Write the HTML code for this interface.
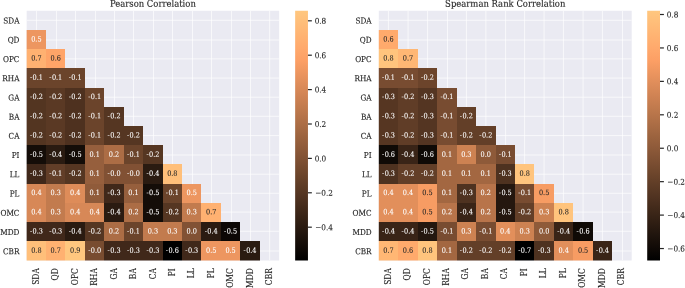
<!DOCTYPE html>
<html><head><meta charset="utf-8"><title>Correlation heatmaps</title>
<style>html,body{margin:0;padding:0;background:#fff}svg{display:block;filter:blur(0.4px)}</style></head>
<body>
<svg width="685" height="288" viewBox="0 0 685 288" font-family="'DejaVu Serif Condensed', 'DejaVu Serif', 'Liberation Serif', serif">
<defs>
<linearGradient id="cb0" gradientUnits="userSpaceOnUse" x1="0" y1="260.45" x2="0" y2="10.7">
<stop offset="0.00" stop-color="#000000"/>
<stop offset="0.05" stop-color="#100a06"/>
<stop offset="0.10" stop-color="#1f140d"/>
<stop offset="0.15" stop-color="#2f1e13"/>
<stop offset="0.20" stop-color="#3f2819"/>
<stop offset="0.25" stop-color="#4f3220"/>
<stop offset="0.30" stop-color="#5e3c26"/>
<stop offset="0.35" stop-color="#6e462c"/>
<stop offset="0.40" stop-color="#7e5033"/>
<stop offset="0.45" stop-color="#8e5a39"/>
<stop offset="0.50" stop-color="#9d643f"/>
<stop offset="0.55" stop-color="#ad6e46"/>
<stop offset="0.60" stop-color="#bd784c"/>
<stop offset="0.65" stop-color="#cd8152"/>
<stop offset="0.70" stop-color="#dc8b59"/>
<stop offset="0.75" stop-color="#ec955f"/>
<stop offset="0.80" stop-color="#fc9f65"/>
<stop offset="0.85" stop-color="#ffa96c"/>
<stop offset="0.90" stop-color="#ffb372"/>
<stop offset="0.95" stop-color="#ffbd79"/>
<stop offset="1.00" stop-color="#ffc77f"/>
</linearGradient>
<linearGradient id="cb1" gradientUnits="userSpaceOnUse" x1="0" y1="260.45" x2="0" y2="10.7">
<stop offset="0.00" stop-color="#000000"/>
<stop offset="0.05" stop-color="#100a06"/>
<stop offset="0.10" stop-color="#1f140d"/>
<stop offset="0.15" stop-color="#2f1e13"/>
<stop offset="0.20" stop-color="#3f2819"/>
<stop offset="0.25" stop-color="#4f3220"/>
<stop offset="0.30" stop-color="#5e3c26"/>
<stop offset="0.35" stop-color="#6e462c"/>
<stop offset="0.40" stop-color="#7e5033"/>
<stop offset="0.45" stop-color="#8e5a39"/>
<stop offset="0.50" stop-color="#9d643f"/>
<stop offset="0.55" stop-color="#ad6e46"/>
<stop offset="0.60" stop-color="#bd784c"/>
<stop offset="0.65" stop-color="#cd8152"/>
<stop offset="0.70" stop-color="#dc8b59"/>
<stop offset="0.75" stop-color="#ec955f"/>
<stop offset="0.80" stop-color="#fc9f65"/>
<stop offset="0.85" stop-color="#ffa96c"/>
<stop offset="0.90" stop-color="#ffb372"/>
<stop offset="0.95" stop-color="#ffbd79"/>
<stop offset="1.00" stop-color="#ffc77f"/>
</linearGradient>
<clipPath id="hc0"><rect x="26.65" y="10.7" width="252.50" height="249.75"/></clipPath>
<clipPath id="bc0"><rect x="295.15" y="10.7" width="12.80" height="249.75"/></clipPath>
<clipPath id="hc1"><rect x="378.8" y="10.7" width="252.90" height="249.75"/></clipPath>
<clipPath id="bc1"><rect x="647.2" y="10.7" width="12.80" height="249.75"/></clipPath>
</defs>
<rect width="685" height="288" fill="#fff"/>
<g shape-rendering="crispEdges">
<g clip-path="url(#hc0)">
<rect x="24.65" y="8.70" width="256.50" height="253.75" fill="#eaeaf2"/>
<path d="M36.45 10.7V260.45M26.65 20.30H279.15M56.45 10.7V260.45M26.65 40.00H279.15M75.50 10.7V260.45M26.65 58.90H279.15M95.45 10.7V260.45M26.65 78.10H279.15M114.50 10.7V260.45M26.65 97.20H279.15M133.50 10.7V260.45M26.65 116.30H279.15M153.50 10.7V260.45M26.65 135.60H279.15M172.50 10.7V260.45M26.65 155.00H279.15M192.50 10.7V260.45M26.65 174.20H279.15M211.55 10.7V260.45M26.65 193.30H279.15M231.45 10.7V260.45M26.65 212.10H279.15M250.55 10.7V260.45M26.65 231.30H279.15M269.70 10.7V260.45M26.65 251.00H279.15" stroke="#fff" stroke-width="1" stroke-opacity="0.68" fill="none" shape-rendering="geometricPrecision"/>
<rect x="25" y="30" width="21" height="19" fill="#ed9660"/>
<rect x="25" y="49" width="21" height="19" fill="#ffb171"/>
<rect x="46" y="49" width="19" height="19" fill="#ffa468"/>
<rect x="25" y="68" width="21" height="20" fill="#6b442b"/>
<rect x="46" y="68" width="19" height="20" fill="#6b442b"/>
<rect x="65" y="68" width="20" height="20" fill="#6b442b"/>
<rect x="25" y="88" width="21" height="19" fill="#533521"/>
<rect x="46" y="88" width="19" height="19" fill="#5a3924"/>
<rect x="65" y="88" width="20" height="19" fill="#4e311f"/>
<rect x="85" y="88" width="19" height="19" fill="#6b442b"/>
<rect x="25" y="107" width="21" height="19" fill="#533521"/>
<rect x="46" y="107" width="19" height="19" fill="#5a3924"/>
<rect x="65" y="107" width="20" height="19" fill="#4e311f"/>
<rect x="85" y="107" width="19" height="19" fill="#6b442b"/>
<rect x="104" y="107" width="20" height="19" fill="#553622"/>
<rect x="25" y="126" width="21" height="19" fill="#533521"/>
<rect x="46" y="126" width="19" height="19" fill="#5a3924"/>
<rect x="65" y="126" width="20" height="19" fill="#4e311f"/>
<rect x="85" y="126" width="19" height="19" fill="#6b442b"/>
<rect x="104" y="126" width="20" height="19" fill="#553622"/>
<rect x="124" y="126" width="19" height="19" fill="#553622"/>
<rect x="25" y="145" width="21" height="19" fill="#140d08"/>
<rect x="46" y="145" width="19" height="19" fill="#2a1b11"/>
<rect x="65" y="145" width="20" height="19" fill="#140d08"/>
<rect x="85" y="145" width="19" height="19" fill="#965f3d"/>
<rect x="104" y="145" width="20" height="19" fill="#ac6d45"/>
<rect x="124" y="145" width="19" height="19" fill="#6b442b"/>
<rect x="143" y="145" width="20" height="19" fill="#553622"/>
<rect x="25" y="164" width="21" height="20" fill="#40281a"/>
<rect x="46" y="164" width="19" height="20" fill="#623e28"/>
<rect x="65" y="164" width="20" height="20" fill="#553622"/>
<rect x="85" y="164" width="19" height="20" fill="#965f3d"/>
<rect x="104" y="164" width="20" height="20" fill="#815134"/>
<rect x="124" y="164" width="19" height="20" fill="#815134"/>
<rect x="143" y="164" width="20" height="20" fill="#2a1b11"/>
<rect x="163" y="164" width="19" height="20" fill="#ffbf7a"/>
<rect x="25" y="184" width="21" height="19" fill="#d78857"/>
<rect x="46" y="184" width="19" height="19" fill="#c27b4e"/>
<rect x="65" y="184" width="20" height="19" fill="#de8c59"/>
<rect x="85" y="184" width="19" height="19" fill="#905b3a"/>
<rect x="104" y="184" width="20" height="19" fill="#40281a"/>
<rect x="124" y="184" width="19" height="19" fill="#965f3d"/>
<rect x="143" y="184" width="20" height="19" fill="#140d08"/>
<rect x="163" y="184" width="19" height="19" fill="#6b442b"/>
<rect x="182" y="184" width="19" height="19" fill="#ed9660"/>
<rect x="25" y="203" width="21" height="19" fill="#d78857"/>
<rect x="46" y="203" width="19" height="19" fill="#c27b4e"/>
<rect x="65" y="203" width="20" height="19" fill="#d78857"/>
<rect x="85" y="203" width="19" height="19" fill="#d78857"/>
<rect x="104" y="203" width="20" height="19" fill="#2a1b11"/>
<rect x="124" y="203" width="19" height="19" fill="#ac6d45"/>
<rect x="143" y="203" width="20" height="19" fill="#140d08"/>
<rect x="163" y="203" width="19" height="19" fill="#553622"/>
<rect x="182" y="203" width="19" height="19" fill="#c27b4e"/>
<rect x="201" y="203" width="20" height="19" fill="#ffb171"/>
<rect x="25" y="222" width="21" height="19" fill="#40281a"/>
<rect x="46" y="222" width="19" height="19" fill="#40281a"/>
<rect x="65" y="222" width="20" height="19" fill="#2a1b11"/>
<rect x="85" y="222" width="19" height="19" fill="#553622"/>
<rect x="104" y="222" width="20" height="19" fill="#ac6d45"/>
<rect x="124" y="222" width="19" height="19" fill="#6b442b"/>
<rect x="143" y="222" width="20" height="19" fill="#c27b4e"/>
<rect x="163" y="222" width="19" height="19" fill="#c27b4e"/>
<rect x="182" y="222" width="19" height="19" fill="#815134"/>
<rect x="201" y="222" width="20" height="19" fill="#2a1b11"/>
<rect x="221" y="222" width="19" height="19" fill="#0c0705"/>
<rect x="25" y="241" width="21" height="21" fill="#ffbf7a"/>
<rect x="46" y="241" width="19" height="21" fill="#ffb171"/>
<rect x="65" y="241" width="20" height="21" fill="#ffc77f"/>
<rect x="85" y="241" width="19" height="21" fill="#784c30"/>
<rect x="104" y="241" width="20" height="21" fill="#40281a"/>
<rect x="124" y="241" width="19" height="21" fill="#40281a"/>
<rect x="143" y="241" width="20" height="21" fill="#40281a"/>
<rect x="163" y="241" width="19" height="21" fill="#000000"/>
<rect x="182" y="241" width="19" height="21" fill="#40281a"/>
<rect x="201" y="241" width="20" height="21" fill="#ed9660"/>
<rect x="221" y="241" width="19" height="21" fill="#ed9660"/>
<rect x="240" y="241" width="20" height="21" fill="#2a1b11"/>
</g>
<g font-size="72.5" text-anchor="middle" stroke-width="0.72">
<text transform="translate(36.36 41.38) rotate(.03) scale(.1)" fill="#ffffff" stroke="#ffffff">0.5</text>
<text transform="translate(36.36 60.59) rotate(.03) scale(.1)" fill="#262626" stroke="#262626">0.7</text>
<text transform="translate(55.78 60.59) rotate(.03) scale(.1)" fill="#262626" stroke="#262626">0.6</text>
<text transform="translate(36.36 79.81) rotate(.03) scale(.1)" fill="#ffffff" stroke="#ffffff">-<tspan dx="4">0.1</tspan></text>
<text transform="translate(55.78 79.81) rotate(.03) scale(.1)" fill="#ffffff" stroke="#ffffff">-<tspan dx="4">0.1</tspan></text>
<text transform="translate(75.21 79.81) rotate(.03) scale(.1)" fill="#ffffff" stroke="#ffffff">-<tspan dx="4">0.1</tspan></text>
<text transform="translate(36.36 99.02) rotate(.03) scale(.1)" fill="#ffffff" stroke="#ffffff">-<tspan dx="4">0.2</tspan></text>
<text transform="translate(55.78 99.02) rotate(.03) scale(.1)" fill="#ffffff" stroke="#ffffff">-<tspan dx="4">0.2</tspan></text>
<text transform="translate(75.21 99.02) rotate(.03) scale(.1)" fill="#ffffff" stroke="#ffffff">-<tspan dx="4">0.2</tspan></text>
<text transform="translate(94.63 99.02) rotate(.03) scale(.1)" fill="#ffffff" stroke="#ffffff">-<tspan dx="4">0.1</tspan></text>
<text transform="translate(36.36 118.23) rotate(.03) scale(.1)" fill="#ffffff" stroke="#ffffff">-<tspan dx="4">0.2</tspan></text>
<text transform="translate(55.78 118.23) rotate(.03) scale(.1)" fill="#ffffff" stroke="#ffffff">-<tspan dx="4">0.2</tspan></text>
<text transform="translate(75.21 118.23) rotate(.03) scale(.1)" fill="#ffffff" stroke="#ffffff">-<tspan dx="4">0.2</tspan></text>
<text transform="translate(94.63 118.23) rotate(.03) scale(.1)" fill="#ffffff" stroke="#ffffff">-<tspan dx="4">0.1</tspan></text>
<text transform="translate(114.05 118.23) rotate(.03) scale(.1)" fill="#ffffff" stroke="#ffffff">-<tspan dx="4">0.2</tspan></text>
<text transform="translate(36.36 137.44) rotate(.03) scale(.1)" fill="#ffffff" stroke="#ffffff">-<tspan dx="4">0.2</tspan></text>
<text transform="translate(55.78 137.44) rotate(.03) scale(.1)" fill="#ffffff" stroke="#ffffff">-<tspan dx="4">0.2</tspan></text>
<text transform="translate(75.21 137.44) rotate(.03) scale(.1)" fill="#ffffff" stroke="#ffffff">-<tspan dx="4">0.2</tspan></text>
<text transform="translate(94.63 137.44) rotate(.03) scale(.1)" fill="#ffffff" stroke="#ffffff">-<tspan dx="4">0.1</tspan></text>
<text transform="translate(114.05 137.44) rotate(.03) scale(.1)" fill="#ffffff" stroke="#ffffff">-<tspan dx="4">0.2</tspan></text>
<text transform="translate(133.48 137.44) rotate(.03) scale(.1)" fill="#ffffff" stroke="#ffffff">-<tspan dx="4">0.2</tspan></text>
<text transform="translate(36.36 156.65) rotate(.03) scale(.1)" fill="#ffffff" stroke="#ffffff">-<tspan dx="4">0.5</tspan></text>
<text transform="translate(55.78 156.65) rotate(.03) scale(.1)" fill="#ffffff" stroke="#ffffff">-<tspan dx="4">0.4</tspan></text>
<text transform="translate(75.21 156.65) rotate(.03) scale(.1)" fill="#ffffff" stroke="#ffffff">-<tspan dx="4">0.5</tspan></text>
<text transform="translate(94.63 156.65) rotate(.03) scale(.1)" fill="#ffffff" stroke="#ffffff">0.1</text>
<text transform="translate(114.05 156.65) rotate(.03) scale(.1)" fill="#ffffff" stroke="#ffffff">0.2</text>
<text transform="translate(133.48 156.65) rotate(.03) scale(.1)" fill="#ffffff" stroke="#ffffff">-<tspan dx="4">0.1</tspan></text>
<text transform="translate(152.90 156.65) rotate(.03) scale(.1)" fill="#ffffff" stroke="#ffffff">-<tspan dx="4">0.2</tspan></text>
<text transform="translate(36.36 175.86) rotate(.03) scale(.1)" fill="#ffffff" stroke="#ffffff">-<tspan dx="4">0.3</tspan></text>
<text transform="translate(55.78 175.86) rotate(.03) scale(.1)" fill="#ffffff" stroke="#ffffff">-<tspan dx="4">0.1</tspan></text>
<text transform="translate(75.21 175.86) rotate(.03) scale(.1)" fill="#ffffff" stroke="#ffffff">-<tspan dx="4">0.2</tspan></text>
<text transform="translate(94.63 175.86) rotate(.03) scale(.1)" fill="#ffffff" stroke="#ffffff">0.1</text>
<text transform="translate(114.05 175.86) rotate(.03) scale(.1)" fill="#ffffff" stroke="#ffffff">-<tspan dx="4">0.0</tspan></text>
<text transform="translate(133.48 175.86) rotate(.03) scale(.1)" fill="#ffffff" stroke="#ffffff">-<tspan dx="4">0.0</tspan></text>
<text transform="translate(152.90 175.86) rotate(.03) scale(.1)" fill="#ffffff" stroke="#ffffff">-<tspan dx="4">0.4</tspan></text>
<text transform="translate(172.32 175.86) rotate(.03) scale(.1)" fill="#262626" stroke="#262626">0.8</text>
<text transform="translate(36.36 195.07) rotate(.03) scale(.1)" fill="#ffffff" stroke="#ffffff">0.4</text>
<text transform="translate(55.78 195.07) rotate(.03) scale(.1)" fill="#ffffff" stroke="#ffffff">0.3</text>
<text transform="translate(75.21 195.07) rotate(.03) scale(.1)" fill="#ffffff" stroke="#ffffff">0.4</text>
<text transform="translate(94.63 195.07) rotate(.03) scale(.1)" fill="#ffffff" stroke="#ffffff">0.1</text>
<text transform="translate(114.05 195.07) rotate(.03) scale(.1)" fill="#ffffff" stroke="#ffffff">-<tspan dx="4">0.3</tspan></text>
<text transform="translate(133.48 195.07) rotate(.03) scale(.1)" fill="#ffffff" stroke="#ffffff">0.1</text>
<text transform="translate(152.90 195.07) rotate(.03) scale(.1)" fill="#ffffff" stroke="#ffffff">-<tspan dx="4">0.5</tspan></text>
<text transform="translate(172.32 195.07) rotate(.03) scale(.1)" fill="#ffffff" stroke="#ffffff">-<tspan dx="4">0.1</tspan></text>
<text transform="translate(191.75 195.07) rotate(.03) scale(.1)" fill="#ffffff" stroke="#ffffff">0.5</text>
<text transform="translate(36.36 214.29) rotate(.03) scale(.1)" fill="#ffffff" stroke="#ffffff">0.4</text>
<text transform="translate(55.78 214.29) rotate(.03) scale(.1)" fill="#ffffff" stroke="#ffffff">0.3</text>
<text transform="translate(75.21 214.29) rotate(.03) scale(.1)" fill="#ffffff" stroke="#ffffff">0.4</text>
<text transform="translate(94.63 214.29) rotate(.03) scale(.1)" fill="#ffffff" stroke="#ffffff">0.4</text>
<text transform="translate(114.05 214.29) rotate(.03) scale(.1)" fill="#ffffff" stroke="#ffffff">-<tspan dx="4">0.4</tspan></text>
<text transform="translate(133.48 214.29) rotate(.03) scale(.1)" fill="#ffffff" stroke="#ffffff">0.2</text>
<text transform="translate(152.90 214.29) rotate(.03) scale(.1)" fill="#ffffff" stroke="#ffffff">-<tspan dx="4">0.5</tspan></text>
<text transform="translate(172.32 214.29) rotate(.03) scale(.1)" fill="#ffffff" stroke="#ffffff">-<tspan dx="4">0.2</tspan></text>
<text transform="translate(191.75 214.29) rotate(.03) scale(.1)" fill="#ffffff" stroke="#ffffff">0.3</text>
<text transform="translate(211.17 214.29) rotate(.03) scale(.1)" fill="#262626" stroke="#262626">0.7</text>
<text transform="translate(36.36 233.50) rotate(.03) scale(.1)" fill="#ffffff" stroke="#ffffff">-<tspan dx="4">0.3</tspan></text>
<text transform="translate(55.78 233.50) rotate(.03) scale(.1)" fill="#ffffff" stroke="#ffffff">-<tspan dx="4">0.3</tspan></text>
<text transform="translate(75.21 233.50) rotate(.03) scale(.1)" fill="#ffffff" stroke="#ffffff">-<tspan dx="4">0.4</tspan></text>
<text transform="translate(94.63 233.50) rotate(.03) scale(.1)" fill="#ffffff" stroke="#ffffff">-<tspan dx="4">0.2</tspan></text>
<text transform="translate(114.05 233.50) rotate(.03) scale(.1)" fill="#ffffff" stroke="#ffffff">0.2</text>
<text transform="translate(133.48 233.50) rotate(.03) scale(.1)" fill="#ffffff" stroke="#ffffff">-<tspan dx="4">0.1</tspan></text>
<text transform="translate(152.90 233.50) rotate(.03) scale(.1)" fill="#ffffff" stroke="#ffffff">0.3</text>
<text transform="translate(172.32 233.50) rotate(.03) scale(.1)" fill="#ffffff" stroke="#ffffff">0.3</text>
<text transform="translate(191.75 233.50) rotate(.03) scale(.1)" fill="#ffffff" stroke="#ffffff">0.0</text>
<text transform="translate(211.17 233.50) rotate(.03) scale(.1)" fill="#ffffff" stroke="#ffffff">-<tspan dx="4">0.4</tspan></text>
<text transform="translate(230.59 233.50) rotate(.03) scale(.1)" fill="#ffffff" stroke="#ffffff">-<tspan dx="4">0.5</tspan></text>
<text transform="translate(36.36 252.71) rotate(.03) scale(.1)" fill="#262626" stroke="#262626">0.8</text>
<text transform="translate(55.78 252.71) rotate(.03) scale(.1)" fill="#262626" stroke="#262626">0.7</text>
<text transform="translate(75.21 252.71) rotate(.03) scale(.1)" fill="#262626" stroke="#262626">0.9</text>
<text transform="translate(94.63 252.71) rotate(.03) scale(.1)" fill="#ffffff" stroke="#ffffff">-<tspan dx="4">0.0</tspan></text>
<text transform="translate(114.05 252.71) rotate(.03) scale(.1)" fill="#ffffff" stroke="#ffffff">-<tspan dx="4">0.3</tspan></text>
<text transform="translate(133.48 252.71) rotate(.03) scale(.1)" fill="#ffffff" stroke="#ffffff">-<tspan dx="4">0.3</tspan></text>
<text transform="translate(152.90 252.71) rotate(.03) scale(.1)" fill="#ffffff" stroke="#ffffff">-<tspan dx="4">0.3</tspan></text>
<text transform="translate(172.32 252.71) rotate(.03) scale(.1)" fill="#ffffff" stroke="#ffffff">-<tspan dx="4">0.6</tspan></text>
<text transform="translate(191.75 252.71) rotate(.03) scale(.1)" fill="#ffffff" stroke="#ffffff">-<tspan dx="4">0.3</tspan></text>
<text transform="translate(211.17 252.71) rotate(.03) scale(.1)" fill="#ffffff" stroke="#ffffff">0.5</text>
<text transform="translate(230.59 252.71) rotate(.03) scale(.1)" fill="#ffffff" stroke="#ffffff">0.5</text>
<text transform="translate(250.02 252.71) rotate(.03) scale(.1)" fill="#ffffff" stroke="#ffffff">-<tspan dx="4">0.4</tspan></text>
</g>
<g font-size="81.0" fill="#262626" stroke="#262626" stroke-width="1.2">
<text transform="translate(19.45 23.60) rotate(.03) scale(.1)" text-anchor="end">SDA</text>
<text transform="translate(19.45 42.81) rotate(.03) scale(.1)" text-anchor="end">QD</text>
<text transform="translate(19.45 62.03) rotate(.03) scale(.1)" text-anchor="end">OPC</text>
<text transform="translate(19.45 81.24) rotate(.03) scale(.1)" text-anchor="end">RHA</text>
<text transform="translate(19.45 100.45) rotate(.03) scale(.1)" text-anchor="end">GA</text>
<text transform="translate(19.45 119.66) rotate(.03) scale(.1)" text-anchor="end">BA</text>
<text transform="translate(19.45 138.87) rotate(.03) scale(.1)" text-anchor="end">CA</text>
<text transform="translate(19.45 158.08) rotate(.03) scale(.1)" text-anchor="end">PI</text>
<text transform="translate(19.45 177.30) rotate(.03) scale(.1)" text-anchor="end">LL</text>
<text transform="translate(19.45 196.51) rotate(.03) scale(.1)" text-anchor="end">PL</text>
<text transform="translate(19.45 215.72) rotate(.03) scale(.1)" text-anchor="end">OMC</text>
<text transform="translate(19.45 234.93) rotate(.03) scale(.1)" text-anchor="end">MDD</text>
<text transform="translate(19.45 254.14) rotate(.03) scale(.1)" text-anchor="end">CBR</text>
<text transform="translate(39.06 268.15) rotate(-90) scale(.1035)" text-anchor="end">SDA</text>
<text transform="translate(58.48 268.15) rotate(-90) scale(.1035)" text-anchor="end">QD</text>
<text transform="translate(77.90 268.15) rotate(-90) scale(.1035)" text-anchor="end">OPC</text>
<text transform="translate(97.33 268.15) rotate(-90) scale(.1035)" text-anchor="end">RHA</text>
<text transform="translate(116.75 268.15) rotate(-90) scale(.1035)" text-anchor="end">GA</text>
<text transform="translate(136.17 268.15) rotate(-90) scale(.1035)" text-anchor="end">BA</text>
<text transform="translate(155.60 268.15) rotate(-90) scale(.1035)" text-anchor="end">CA</text>
<text transform="translate(175.02 268.15) rotate(-90) scale(.1035)" text-anchor="end">PI</text>
<text transform="translate(194.44 268.15) rotate(-90) scale(.1035)" text-anchor="end">LL</text>
<text transform="translate(213.87 268.15) rotate(-90) scale(.1035)" text-anchor="end">PL</text>
<text transform="translate(233.29 268.15) rotate(-90) scale(.1035)" text-anchor="end">OMC</text>
<text transform="translate(252.71 268.15) rotate(-90) scale(.1035)" text-anchor="end">MDD</text>
<text transform="translate(272.14 268.15) rotate(-90) scale(.1035)" text-anchor="end">CBR</text>
</g>
<text transform="translate(152.90 6.7) rotate(.03) scale(.1)" font-size="94.0" fill="#262626" stroke="#262626" stroke-width="1.2" text-anchor="middle">Pearson Correlation</text>
<g clip-path="url(#bc0)"><rect x="293.15" y="8.70" width="16.80" height="253.75" fill="url(#cb0)"/></g>
<g font-size="81.0" fill="#262626" stroke="#262626" stroke-width="1.2">
<path d="M307.95 20.81h3.9" stroke="#262626" stroke-width="1.2" shape-rendering="geometricPrecision"/>
<text transform="translate(314.65 23.80) rotate(.03) scale(.1)">0.8</text>
<path d="M307.95 55.20h3.9" stroke="#262626" stroke-width="1.2" shape-rendering="geometricPrecision"/>
<text transform="translate(314.65 58.20) rotate(.03) scale(.1)">0.6</text>
<path d="M307.95 89.60h3.9" stroke="#262626" stroke-width="1.2" shape-rendering="geometricPrecision"/>
<text transform="translate(314.65 92.60) rotate(.03) scale(.1)">0.4</text>
<path d="M307.95 124.00h3.9" stroke="#262626" stroke-width="1.2" shape-rendering="geometricPrecision"/>
<text transform="translate(314.65 126.99) rotate(.03) scale(.1)">0.2</text>
<path d="M307.95 158.39h3.9" stroke="#262626" stroke-width="1.2" shape-rendering="geometricPrecision"/>
<text transform="translate(314.65 161.39) rotate(.03) scale(.1)">0.0</text>
<path d="M307.95 192.79h3.9" stroke="#262626" stroke-width="1.2" shape-rendering="geometricPrecision"/>
<text transform="translate(315.25 195.79) rotate(.03) scale(.1)">−0.2</text>
<path d="M307.95 227.19h3.9" stroke="#262626" stroke-width="1.2" shape-rendering="geometricPrecision"/>
<text transform="translate(315.25 230.19) rotate(.03) scale(.1)">−0.4</text>
</g>
</g>
<g shape-rendering="crispEdges">
<g clip-path="url(#hc1)">
<rect x="376.80" y="8.70" width="256.90" height="253.75" fill="#eaeaf2"/>
<path d="M388.40 10.7V260.45M378.8 20.30H631.7M408.10 10.7V260.45M378.8 40.00H631.7M427.60 10.7V260.45M378.8 58.90H631.7M447.50 10.7V260.45M378.8 78.10H631.7M466.40 10.7V260.45M378.8 97.20H631.7M485.90 10.7V260.45M378.8 116.30H631.7M505.60 10.7V260.45M378.8 135.60H631.7M524.60 10.7V260.45M378.8 155.00H631.7M544.10 10.7V260.45M378.8 174.20H631.7M563.40 10.7V260.45M378.8 193.30H631.7M583.10 10.7V260.45M378.8 212.10H631.7M602.40 10.7V260.45M378.8 231.30H631.7M622.50 10.7V260.45M378.8 251.00H631.7" stroke="#fff" stroke-width="1" stroke-opacity="0.68" fill="none" shape-rendering="geometricPrecision"/>
<rect x="377" y="30" width="21" height="19" fill="#ffaa6c"/>
<rect x="377" y="49" width="21" height="19" fill="#ffc47d"/>
<rect x="398" y="49" width="20" height="19" fill="#ffb774"/>
<rect x="377" y="68" width="21" height="20" fill="#784c31"/>
<rect x="398" y="68" width="20" height="20" fill="#784c31"/>
<rect x="418" y="68" width="19" height="20" fill="#6c442b"/>
<rect x="377" y="88" width="21" height="19" fill="#563622"/>
<rect x="398" y="88" width="20" height="19" fill="#603d27"/>
<rect x="418" y="88" width="19" height="19" fill="#543522"/>
<rect x="437" y="88" width="20" height="19" fill="#784c31"/>
<rect x="377" y="107" width="21" height="19" fill="#563622"/>
<rect x="398" y="107" width="20" height="19" fill="#603d27"/>
<rect x="418" y="107" width="19" height="19" fill="#543522"/>
<rect x="437" y="107" width="20" height="19" fill="#784c31"/>
<rect x="457" y="107" width="19" height="19" fill="#633f28"/>
<rect x="377" y="126" width="21" height="19" fill="#563622"/>
<rect x="398" y="126" width="20" height="19" fill="#603d27"/>
<rect x="418" y="126" width="19" height="19" fill="#543522"/>
<rect x="437" y="126" width="20" height="19" fill="#784c31"/>
<rect x="457" y="126" width="19" height="19" fill="#633f28"/>
<rect x="476" y="126" width="20" height="19" fill="#633f28"/>
<rect x="377" y="145" width="21" height="19" fill="#0f0a06"/>
<rect x="398" y="145" width="20" height="19" fill="#392417"/>
<rect x="418" y="145" width="19" height="19" fill="#0f0a06"/>
<rect x="437" y="145" width="20" height="19" fill="#a36741"/>
<rect x="457" y="145" width="19" height="19" fill="#cd8252"/>
<rect x="476" y="145" width="20" height="19" fill="#8e5a39"/>
<rect x="496" y="145" width="19" height="19" fill="#784c31"/>
<rect x="377" y="164" width="21" height="20" fill="#4e3220"/>
<rect x="398" y="164" width="20" height="20" fill="#633f28"/>
<rect x="418" y="164" width="19" height="20" fill="#633f28"/>
<rect x="437" y="164" width="20" height="20" fill="#a36741"/>
<rect x="457" y="164" width="19" height="20" fill="#a36741"/>
<rect x="476" y="164" width="20" height="20" fill="#a36741"/>
<rect x="496" y="164" width="19" height="20" fill="#4e3220"/>
<rect x="515" y="164" width="19" height="20" fill="#ffc47d"/>
<rect x="377" y="184" width="21" height="19" fill="#e28f5b"/>
<rect x="398" y="184" width="20" height="19" fill="#e28f5b"/>
<rect x="418" y="184" width="19" height="19" fill="#f79c63"/>
<rect x="437" y="184" width="20" height="19" fill="#a36741"/>
<rect x="457" y="184" width="19" height="19" fill="#4e3220"/>
<rect x="476" y="184" width="20" height="19" fill="#b8744a"/>
<rect x="496" y="184" width="19" height="19" fill="#24170f"/>
<rect x="515" y="184" width="19" height="19" fill="#784c31"/>
<rect x="534" y="184" width="20" height="19" fill="#f79c63"/>
<rect x="377" y="203" width="21" height="19" fill="#e28f5b"/>
<rect x="398" y="203" width="20" height="19" fill="#e28f5b"/>
<rect x="418" y="203" width="19" height="19" fill="#f79c63"/>
<rect x="437" y="203" width="20" height="19" fill="#b8744a"/>
<rect x="457" y="203" width="19" height="19" fill="#392417"/>
<rect x="476" y="203" width="20" height="19" fill="#b8744a"/>
<rect x="496" y="203" width="19" height="19" fill="#24170f"/>
<rect x="515" y="203" width="19" height="19" fill="#633f28"/>
<rect x="534" y="203" width="20" height="19" fill="#cd8252"/>
<rect x="554" y="203" width="19" height="19" fill="#ffc47d"/>
<rect x="377" y="222" width="21" height="19" fill="#392417"/>
<rect x="398" y="222" width="20" height="19" fill="#392417"/>
<rect x="418" y="222" width="19" height="19" fill="#24170f"/>
<rect x="437" y="222" width="20" height="19" fill="#784c31"/>
<rect x="457" y="222" width="19" height="19" fill="#cd8252"/>
<rect x="476" y="222" width="20" height="19" fill="#784c31"/>
<rect x="496" y="222" width="19" height="19" fill="#e28f5b"/>
<rect x="515" y="222" width="19" height="19" fill="#cd8252"/>
<rect x="534" y="222" width="20" height="19" fill="#8e5a39"/>
<rect x="554" y="222" width="19" height="19" fill="#392417"/>
<rect x="573" y="222" width="20" height="19" fill="#0f0a06"/>
<rect x="377" y="241" width="21" height="21" fill="#ffb774"/>
<rect x="398" y="241" width="20" height="21" fill="#ffaa6c"/>
<rect x="418" y="241" width="19" height="21" fill="#ffc47d"/>
<rect x="437" y="241" width="20" height="21" fill="#a36741"/>
<rect x="457" y="241" width="19" height="21" fill="#633f28"/>
<rect x="476" y="241" width="20" height="21" fill="#633f28"/>
<rect x="496" y="241" width="19" height="21" fill="#633f28"/>
<rect x="515" y="241" width="19" height="21" fill="#000000"/>
<rect x="534" y="241" width="20" height="21" fill="#4e3220"/>
<rect x="554" y="241" width="19" height="21" fill="#e28f5b"/>
<rect x="573" y="241" width="20" height="21" fill="#f79c63"/>
<rect x="593" y="241" width="19" height="21" fill="#392417"/>
</g>
<g font-size="72.5" text-anchor="middle" stroke-width="0.72">
<text transform="translate(388.53 41.38) rotate(.03) scale(.1)" fill="#262626" stroke="#262626">0.6</text>
<text transform="translate(388.53 60.59) rotate(.03) scale(.1)" fill="#262626" stroke="#262626">0.8</text>
<text transform="translate(407.98 60.59) rotate(.03) scale(.1)" fill="#262626" stroke="#262626">0.7</text>
<text transform="translate(388.53 79.81) rotate(.03) scale(.1)" fill="#ffffff" stroke="#ffffff">-<tspan dx="4">0.1</tspan></text>
<text transform="translate(407.98 79.81) rotate(.03) scale(.1)" fill="#ffffff" stroke="#ffffff">-<tspan dx="4">0.1</tspan></text>
<text transform="translate(427.43 79.81) rotate(.03) scale(.1)" fill="#ffffff" stroke="#ffffff">-<tspan dx="4">0.2</tspan></text>
<text transform="translate(388.53 99.02) rotate(.03) scale(.1)" fill="#ffffff" stroke="#ffffff">-<tspan dx="4">0.3</tspan></text>
<text transform="translate(407.98 99.02) rotate(.03) scale(.1)" fill="#ffffff" stroke="#ffffff">-<tspan dx="4">0.2</tspan></text>
<text transform="translate(427.43 99.02) rotate(.03) scale(.1)" fill="#ffffff" stroke="#ffffff">-<tspan dx="4">0.3</tspan></text>
<text transform="translate(446.89 99.02) rotate(.03) scale(.1)" fill="#ffffff" stroke="#ffffff">-<tspan dx="4">0.1</tspan></text>
<text transform="translate(388.53 118.23) rotate(.03) scale(.1)" fill="#ffffff" stroke="#ffffff">-<tspan dx="4">0.3</tspan></text>
<text transform="translate(407.98 118.23) rotate(.03) scale(.1)" fill="#ffffff" stroke="#ffffff">-<tspan dx="4">0.2</tspan></text>
<text transform="translate(427.43 118.23) rotate(.03) scale(.1)" fill="#ffffff" stroke="#ffffff">-<tspan dx="4">0.3</tspan></text>
<text transform="translate(446.89 118.23) rotate(.03) scale(.1)" fill="#ffffff" stroke="#ffffff">-<tspan dx="4">0.1</tspan></text>
<text transform="translate(466.34 118.23) rotate(.03) scale(.1)" fill="#ffffff" stroke="#ffffff">-<tspan dx="4">0.2</tspan></text>
<text transform="translate(388.53 137.44) rotate(.03) scale(.1)" fill="#ffffff" stroke="#ffffff">-<tspan dx="4">0.3</tspan></text>
<text transform="translate(407.98 137.44) rotate(.03) scale(.1)" fill="#ffffff" stroke="#ffffff">-<tspan dx="4">0.2</tspan></text>
<text transform="translate(427.43 137.44) rotate(.03) scale(.1)" fill="#ffffff" stroke="#ffffff">-<tspan dx="4">0.3</tspan></text>
<text transform="translate(446.89 137.44) rotate(.03) scale(.1)" fill="#ffffff" stroke="#ffffff">-<tspan dx="4">0.1</tspan></text>
<text transform="translate(466.34 137.44) rotate(.03) scale(.1)" fill="#ffffff" stroke="#ffffff">-<tspan dx="4">0.2</tspan></text>
<text transform="translate(485.80 137.44) rotate(.03) scale(.1)" fill="#ffffff" stroke="#ffffff">-<tspan dx="4">0.2</tspan></text>
<text transform="translate(388.53 156.65) rotate(.03) scale(.1)" fill="#ffffff" stroke="#ffffff">-<tspan dx="4">0.6</tspan></text>
<text transform="translate(407.98 156.65) rotate(.03) scale(.1)" fill="#ffffff" stroke="#ffffff">-<tspan dx="4">0.4</tspan></text>
<text transform="translate(427.43 156.65) rotate(.03) scale(.1)" fill="#ffffff" stroke="#ffffff">-<tspan dx="4">0.6</tspan></text>
<text transform="translate(446.89 156.65) rotate(.03) scale(.1)" fill="#ffffff" stroke="#ffffff">0.1</text>
<text transform="translate(466.34 156.65) rotate(.03) scale(.1)" fill="#ffffff" stroke="#ffffff">0.3</text>
<text transform="translate(485.80 156.65) rotate(.03) scale(.1)" fill="#ffffff" stroke="#ffffff">0.0</text>
<text transform="translate(505.25 156.65) rotate(.03) scale(.1)" fill="#ffffff" stroke="#ffffff">-<tspan dx="4">0.1</tspan></text>
<text transform="translate(388.53 175.86) rotate(.03) scale(.1)" fill="#ffffff" stroke="#ffffff">-<tspan dx="4">0.3</tspan></text>
<text transform="translate(407.98 175.86) rotate(.03) scale(.1)" fill="#ffffff" stroke="#ffffff">-<tspan dx="4">0.2</tspan></text>
<text transform="translate(427.43 175.86) rotate(.03) scale(.1)" fill="#ffffff" stroke="#ffffff">-<tspan dx="4">0.2</tspan></text>
<text transform="translate(446.89 175.86) rotate(.03) scale(.1)" fill="#ffffff" stroke="#ffffff">0.1</text>
<text transform="translate(466.34 175.86) rotate(.03) scale(.1)" fill="#ffffff" stroke="#ffffff">0.1</text>
<text transform="translate(485.80 175.86) rotate(.03) scale(.1)" fill="#ffffff" stroke="#ffffff">0.1</text>
<text transform="translate(505.25 175.86) rotate(.03) scale(.1)" fill="#ffffff" stroke="#ffffff">-<tspan dx="4">0.3</tspan></text>
<text transform="translate(524.70 175.86) rotate(.03) scale(.1)" fill="#262626" stroke="#262626">0.8</text>
<text transform="translate(388.53 195.07) rotate(.03) scale(.1)" fill="#ffffff" stroke="#ffffff">0.4</text>
<text transform="translate(407.98 195.07) rotate(.03) scale(.1)" fill="#ffffff" stroke="#ffffff">0.4</text>
<text transform="translate(427.43 195.07) rotate(.03) scale(.1)" fill="#262626" stroke="#262626">0.5</text>
<text transform="translate(446.89 195.07) rotate(.03) scale(.1)" fill="#ffffff" stroke="#ffffff">0.1</text>
<text transform="translate(466.34 195.07) rotate(.03) scale(.1)" fill="#ffffff" stroke="#ffffff">-<tspan dx="4">0.3</tspan></text>
<text transform="translate(485.80 195.07) rotate(.03) scale(.1)" fill="#ffffff" stroke="#ffffff">0.2</text>
<text transform="translate(505.25 195.07) rotate(.03) scale(.1)" fill="#ffffff" stroke="#ffffff">-<tspan dx="4">0.5</tspan></text>
<text transform="translate(524.70 195.07) rotate(.03) scale(.1)" fill="#ffffff" stroke="#ffffff">-<tspan dx="4">0.1</tspan></text>
<text transform="translate(544.16 195.07) rotate(.03) scale(.1)" fill="#262626" stroke="#262626">0.5</text>
<text transform="translate(388.53 214.29) rotate(.03) scale(.1)" fill="#ffffff" stroke="#ffffff">0.4</text>
<text transform="translate(407.98 214.29) rotate(.03) scale(.1)" fill="#ffffff" stroke="#ffffff">0.4</text>
<text transform="translate(427.43 214.29) rotate(.03) scale(.1)" fill="#262626" stroke="#262626">0.5</text>
<text transform="translate(446.89 214.29) rotate(.03) scale(.1)" fill="#ffffff" stroke="#ffffff">0.2</text>
<text transform="translate(466.34 214.29) rotate(.03) scale(.1)" fill="#ffffff" stroke="#ffffff">-<tspan dx="4">0.4</tspan></text>
<text transform="translate(485.80 214.29) rotate(.03) scale(.1)" fill="#ffffff" stroke="#ffffff">0.2</text>
<text transform="translate(505.25 214.29) rotate(.03) scale(.1)" fill="#ffffff" stroke="#ffffff">-<tspan dx="4">0.5</tspan></text>
<text transform="translate(524.70 214.29) rotate(.03) scale(.1)" fill="#ffffff" stroke="#ffffff">-<tspan dx="4">0.2</tspan></text>
<text transform="translate(544.16 214.29) rotate(.03) scale(.1)" fill="#ffffff" stroke="#ffffff">0.3</text>
<text transform="translate(563.61 214.29) rotate(.03) scale(.1)" fill="#262626" stroke="#262626">0.8</text>
<text transform="translate(388.53 233.50) rotate(.03) scale(.1)" fill="#ffffff" stroke="#ffffff">-<tspan dx="4">0.4</tspan></text>
<text transform="translate(407.98 233.50) rotate(.03) scale(.1)" fill="#ffffff" stroke="#ffffff">-<tspan dx="4">0.4</tspan></text>
<text transform="translate(427.43 233.50) rotate(.03) scale(.1)" fill="#ffffff" stroke="#ffffff">-<tspan dx="4">0.5</tspan></text>
<text transform="translate(446.89 233.50) rotate(.03) scale(.1)" fill="#ffffff" stroke="#ffffff">-<tspan dx="4">0.1</tspan></text>
<text transform="translate(466.34 233.50) rotate(.03) scale(.1)" fill="#ffffff" stroke="#ffffff">0.3</text>
<text transform="translate(485.80 233.50) rotate(.03) scale(.1)" fill="#ffffff" stroke="#ffffff">-<tspan dx="4">0.1</tspan></text>
<text transform="translate(505.25 233.50) rotate(.03) scale(.1)" fill="#ffffff" stroke="#ffffff">0.4</text>
<text transform="translate(524.70 233.50) rotate(.03) scale(.1)" fill="#ffffff" stroke="#ffffff">0.3</text>
<text transform="translate(544.16 233.50) rotate(.03) scale(.1)" fill="#ffffff" stroke="#ffffff">0.0</text>
<text transform="translate(563.61 233.50) rotate(.03) scale(.1)" fill="#ffffff" stroke="#ffffff">-<tspan dx="4">0.4</tspan></text>
<text transform="translate(583.07 233.50) rotate(.03) scale(.1)" fill="#ffffff" stroke="#ffffff">-<tspan dx="4">0.6</tspan></text>
<text transform="translate(388.53 252.71) rotate(.03) scale(.1)" fill="#262626" stroke="#262626">0.7</text>
<text transform="translate(407.98 252.71) rotate(.03) scale(.1)" fill="#262626" stroke="#262626">0.6</text>
<text transform="translate(427.43 252.71) rotate(.03) scale(.1)" fill="#262626" stroke="#262626">0.8</text>
<text transform="translate(446.89 252.71) rotate(.03) scale(.1)" fill="#ffffff" stroke="#ffffff">0.1</text>
<text transform="translate(466.34 252.71) rotate(.03) scale(.1)" fill="#ffffff" stroke="#ffffff">-<tspan dx="4">0.2</tspan></text>
<text transform="translate(485.80 252.71) rotate(.03) scale(.1)" fill="#ffffff" stroke="#ffffff">-<tspan dx="4">0.2</tspan></text>
<text transform="translate(505.25 252.71) rotate(.03) scale(.1)" fill="#ffffff" stroke="#ffffff">-<tspan dx="4">0.2</tspan></text>
<text transform="translate(524.70 252.71) rotate(.03) scale(.1)" fill="#ffffff" stroke="#ffffff">-<tspan dx="4">0.7</tspan></text>
<text transform="translate(544.16 252.71) rotate(.03) scale(.1)" fill="#ffffff" stroke="#ffffff">-<tspan dx="4">0.3</tspan></text>
<text transform="translate(563.61 252.71) rotate(.03) scale(.1)" fill="#ffffff" stroke="#ffffff">0.4</text>
<text transform="translate(583.07 252.71) rotate(.03) scale(.1)" fill="#262626" stroke="#262626">0.5</text>
<text transform="translate(602.52 252.71) rotate(.03) scale(.1)" fill="#ffffff" stroke="#ffffff">-<tspan dx="4">0.4</tspan></text>
</g>
<g font-size="81.0" fill="#262626" stroke="#262626" stroke-width="1.2">
<text transform="translate(371.60 23.60) rotate(.03) scale(.1)" text-anchor="end">SDA</text>
<text transform="translate(371.60 42.81) rotate(.03) scale(.1)" text-anchor="end">QD</text>
<text transform="translate(371.60 62.03) rotate(.03) scale(.1)" text-anchor="end">OPC</text>
<text transform="translate(371.60 81.24) rotate(.03) scale(.1)" text-anchor="end">RHA</text>
<text transform="translate(371.60 100.45) rotate(.03) scale(.1)" text-anchor="end">GA</text>
<text transform="translate(371.60 119.66) rotate(.03) scale(.1)" text-anchor="end">BA</text>
<text transform="translate(371.60 138.87) rotate(.03) scale(.1)" text-anchor="end">CA</text>
<text transform="translate(371.60 158.08) rotate(.03) scale(.1)" text-anchor="end">PI</text>
<text transform="translate(371.60 177.30) rotate(.03) scale(.1)" text-anchor="end">LL</text>
<text transform="translate(371.60 196.51) rotate(.03) scale(.1)" text-anchor="end">PL</text>
<text transform="translate(371.60 215.72) rotate(.03) scale(.1)" text-anchor="end">OMC</text>
<text transform="translate(371.60 234.93) rotate(.03) scale(.1)" text-anchor="end">MDD</text>
<text transform="translate(371.60 254.14) rotate(.03) scale(.1)" text-anchor="end">CBR</text>
<text transform="translate(390.62 268.15) rotate(-90) scale(.1035)" text-anchor="end">SDA</text>
<text transform="translate(410.08 268.15) rotate(-90) scale(.1035)" text-anchor="end">QD</text>
<text transform="translate(429.53 268.15) rotate(-90) scale(.1035)" text-anchor="end">OPC</text>
<text transform="translate(448.99 268.15) rotate(-90) scale(.1035)" text-anchor="end">RHA</text>
<text transform="translate(468.44 268.15) rotate(-90) scale(.1035)" text-anchor="end">GA</text>
<text transform="translate(487.89 268.15) rotate(-90) scale(.1035)" text-anchor="end">BA</text>
<text transform="translate(507.35 268.15) rotate(-90) scale(.1035)" text-anchor="end">CA</text>
<text transform="translate(526.80 268.15) rotate(-90) scale(.1035)" text-anchor="end">PI</text>
<text transform="translate(546.25 268.15) rotate(-90) scale(.1035)" text-anchor="end">LL</text>
<text transform="translate(565.71 268.15) rotate(-90) scale(.1035)" text-anchor="end">PL</text>
<text transform="translate(585.16 268.15) rotate(-90) scale(.1035)" text-anchor="end">OMC</text>
<text transform="translate(604.62 268.15) rotate(-90) scale(.1035)" text-anchor="end">MDD</text>
<text transform="translate(624.07 268.15) rotate(-90) scale(.1035)" text-anchor="end">CBR</text>
</g>
<text transform="translate(505.25 6.7) rotate(.03) scale(.1)" font-size="94.0" fill="#262626" stroke="#262626" stroke-width="1.2" text-anchor="middle">Spearman Rank Correlation</text>
<g clip-path="url(#bc1)"><rect x="645.20" y="8.70" width="16.80" height="253.75" fill="url(#cb1)"/></g>
<g font-size="81.0" fill="#262626" stroke="#262626" stroke-width="1.2">
<path d="M660.0 14.50h3.9" stroke="#262626" stroke-width="1.2" shape-rendering="geometricPrecision"/>
<text transform="translate(666.70 17.50) rotate(.03) scale(.1)">0.8</text>
<path d="M660.0 47.94h3.9" stroke="#262626" stroke-width="1.2" shape-rendering="geometricPrecision"/>
<text transform="translate(666.70 50.93) rotate(.03) scale(.1)">0.6</text>
<path d="M660.0 81.37h3.9" stroke="#262626" stroke-width="1.2" shape-rendering="geometricPrecision"/>
<text transform="translate(666.70 84.37) rotate(.03) scale(.1)">0.4</text>
<path d="M660.0 114.80h3.9" stroke="#262626" stroke-width="1.2" shape-rendering="geometricPrecision"/>
<text transform="translate(666.70 117.80) rotate(.03) scale(.1)">0.2</text>
<path d="M660.0 148.24h3.9" stroke="#262626" stroke-width="1.2" shape-rendering="geometricPrecision"/>
<text transform="translate(666.70 151.23) rotate(.03) scale(.1)">0.0</text>
<path d="M660.0 181.67h3.9" stroke="#262626" stroke-width="1.2" shape-rendering="geometricPrecision"/>
<text transform="translate(667.30 184.67) rotate(.03) scale(.1)">−0.2</text>
<path d="M660.0 215.10h3.9" stroke="#262626" stroke-width="1.2" shape-rendering="geometricPrecision"/>
<text transform="translate(667.30 218.10) rotate(.03) scale(.1)">−0.4</text>
<path d="M660.0 248.54h3.9" stroke="#262626" stroke-width="1.2" shape-rendering="geometricPrecision"/>
<text transform="translate(667.30 251.53) rotate(.03) scale(.1)">−0.6</text>
</g>
</g>
</svg>
</body></html>
